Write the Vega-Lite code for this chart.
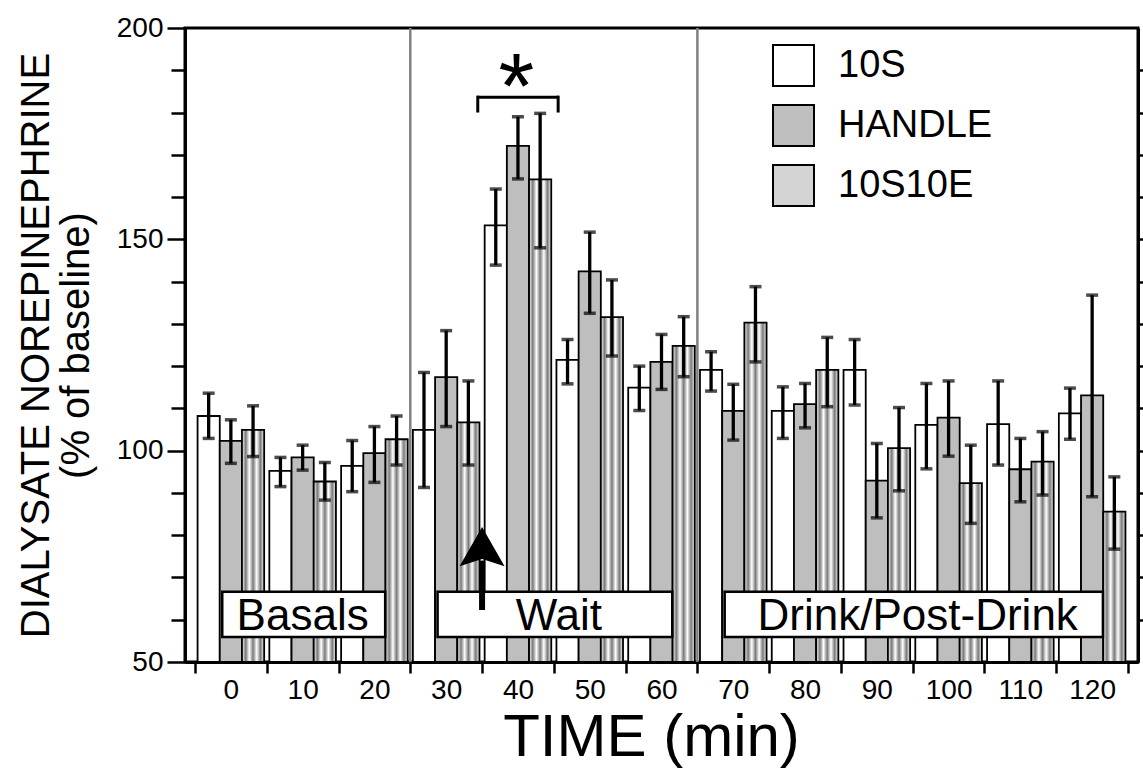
{
  "$schema": "https://vega.github.io/schema/vega-lite/v6.json",
  "width": 953,
  "height": 634,
  "autosize": {"type": "none"},
  "padding": {"left": 185, "top": 28, "right": 5, "bottom": 109},
  "background": "white",
  "config": {
    "font": "Liberation Sans",
    "view": {"stroke": "black", "strokeWidth": 3},
    "axis": {"domainColor": "black", "tickColor": "black", "labelColor": "black", "titleColor": "black", "grid": false, "labelFont": "Liberation Sans", "titleFont": "Liberation Sans", "titleFontWeight": "normal"}
  },
  "datasets": {
    "bars": [
      {"t": 0, "group": "10S", "v": 108.2, "lo": 102.9, "hi": 113.6},
      {"t": 0, "group": "HANDLE", "v": 102.3, "lo": 97.0, "hi": 107.3},
      {"t": 0, "group": "10S10E", "v": 104.9, "lo": 98.6, "hi": 110.6},
      {"t": 10, "group": "10S", "v": 95.2, "lo": 91.5, "hi": 98.4},
      {"t": 10, "group": "HANDLE", "v": 98.4, "lo": 95.4, "hi": 101.3},
      {"t": 10, "group": "10S10E", "v": 92.7, "lo": 88.3, "hi": 97.2},
      {"t": 20, "group": "10S", "v": 96.4, "lo": 90.3, "hi": 102.4},
      {"t": 20, "group": "HANDLE", "v": 99.4, "lo": 92.5, "hi": 105.7},
      {"t": 20, "group": "10S10E", "v": 102.7, "lo": 96.6, "hi": 108.2},
      {"t": 30, "group": "10S", "v": 104.9, "lo": 91.3, "hi": 118.5},
      {"t": 30, "group": "HANDLE", "v": 117.4, "lo": 105.7, "hi": 128.4},
      {"t": 30, "group": "10S10E", "v": 106.7, "lo": 96.6, "hi": 116.5},
      {"t": 40, "group": "10S", "v": 153.3, "lo": 143.9, "hi": 161.9},
      {"t": 40, "group": "HANDLE", "v": 172.1, "lo": 164.3, "hi": 179.0},
      {"t": 40, "group": "10S10E", "v": 164.2, "lo": 148.0, "hi": 179.8},
      {"t": 50, "group": "10S", "v": 121.5, "lo": 115.8, "hi": 126.3},
      {"t": 50, "group": "HANDLE", "v": 142.4, "lo": 132.5, "hi": 151.7},
      {"t": 50, "group": "10S10E", "v": 131.6, "lo": 122.4, "hi": 140.4},
      {"t": 60, "group": "10S", "v": 114.9, "lo": 109.5, "hi": 120.0},
      {"t": 60, "group": "HANDLE", "v": 121.0, "lo": 114.5, "hi": 127.5},
      {"t": 60, "group": "10S10E", "v": 124.8, "lo": 117.5, "hi": 131.7},
      {"t": 70, "group": "10S", "v": 119.1, "lo": 114.1, "hi": 123.4},
      {"t": 70, "group": "HANDLE", "v": 109.4, "lo": 102.5, "hi": 115.7},
      {"t": 70, "group": "10S10E", "v": 130.3, "lo": 121.0, "hi": 138.8},
      {"t": 80, "group": "10S", "v": 109.4, "lo": 102.9, "hi": 115.1},
      {"t": 80, "group": "HANDLE", "v": 111.0, "lo": 105.4, "hi": 115.9},
      {"t": 80, "group": "10S10E", "v": 119.1, "lo": 110.4, "hi": 126.8},
      {"t": 90, "group": "10S", "v": 119.1, "lo": 110.8, "hi": 126.3},
      {"t": 90, "group": "HANDLE", "v": 92.9, "lo": 84.1, "hi": 101.7},
      {"t": 90, "group": "10S10E", "v": 100.6, "lo": 90.5, "hi": 110.2},
      {"t": 100, "group": "10S", "v": 106.1, "lo": 95.7, "hi": 115.9},
      {"t": 100, "group": "HANDLE", "v": 107.8, "lo": 98.7, "hi": 116.5},
      {"t": 100, "group": "10S10E", "v": 92.3, "lo": 82.8, "hi": 101.3},
      {"t": 110, "group": "10S", "v": 106.3, "lo": 96.6, "hi": 116.5},
      {"t": 110, "group": "HANDLE", "v": 95.6, "lo": 87.9, "hi": 102.9},
      {"t": 110, "group": "10S10E", "v": 97.4, "lo": 89.5, "hi": 104.5},
      {"t": 120, "group": "10S", "v": 108.8, "lo": 102.7, "hi": 114.8},
      {"t": 120, "group": "HANDLE", "v": 113.1, "lo": 89.1, "hi": 136.8},
      {"t": 120, "group": "10S10E", "v": 85.6, "lo": 76.7, "hi": 93.8}
    ]
  },
  "encoding": {
    "x": {
      "field": "t", "type": "ordinal",
      "scale": {"domain": [0, 10, 20, 30, 40, 50, 60, 70, 80, 90, 100, 110, 120], "paddingInner": 0, "paddingOuter": 0.139},
      "axis": {"title": "TIME (min)", "titleFontSize": 60, "titlePadding": 4, "titleX": 466, "labelFontSize": 28, "labelAngle": 0, "labelPadding": 3, "tickSize": 11, "tickWidth": 2.5, "tickBand": "extent", "domainWidth": 3}
    }
  },
  "layer": [
    {
      "data": {"values": [{"t": 30}, {"t": 70}]},
      "mark": {"type": "rule", "color": "#808080", "strokeWidth": 2.5},
      "encoding": {"x": {"field": "t", "type": "ordinal", "bandPosition": 0}}
    },
    {
      "data": {"name": "bars"},
      "mark": {"type": "bar", "stroke": "black", "strokeWidth": 1.8},
      "encoding": {
        "xOffset": {"field": "group", "type": "nominal", "scale": {"domain": ["10S", "HANDLE", "10S10E"], "paddingInner": 0, "paddingOuter": 0.117}},
        "y": {
          "field": "v", "type": "quantitative",
          "scale": {"domain": [50, 200], "zero": false, "nice": false},
          "axis": {"orient": "left", "values": [50, 100, 150, 200], "tickSize": 18, "tickWidth": 2.5, "domainWidth": 3, "labelFontSize": 28, "labelPadding": 4, "title": ["DIALYSATE NOREPINEPHRINE", "(% of baseline)"], "titleFontSize": 40, "titleLineHeight": 40, "titlePadding": 20}
        },
        "y2": {"datum": 50},
        "fill": {
          "field": "group", "type": "nominal",
          "condition": {"test": "datum.group === '10S10E'", "value": {"gradient": "linear", "x1": 0, "y1": 0, "x2": 1, "y2": 0, "stops": [{"offset": 0, "color": "#ffffff"}, {"offset": 0.1667, "color": "#7a7a7a"}, {"offset": 0.3333, "color": "#ffffff"}, {"offset": 0.5, "color": "#7a7a7a"}, {"offset": 0.6667, "color": "#ffffff"}, {"offset": 0.8333, "color": "#7a7a7a"}, {"offset": 1, "color": "#ffffff"}]}},
          "scale": {"domain": ["10S", "HANDLE", "10S10E"], "range": ["#ffffff", "#bebebe", "#d4d4d4"]},
          "legend": {
            "title": null, "orient": "none", "legendX": 587, "legendY": 16, "padding": 0,
            "symbolType": "square", "symbolSize": 1681, "symbolStrokeColor": "black", "symbolStrokeWidth": 2,
            "labelFontSize": 38, "labelOffset": 23, "rowPadding": 11, "labelFont": "Liberation Sans", "labelColor": "black",
            "encode": {"symbols": {"update": {
              "fill": [{"test": "datum.value === '10S10E'", "value": {"gradient": "linear", "x1": 0, "y1": 0, "x2": 1, "y2": 0, "stops": [{"offset": 0, "color": "#ffffff"}, {"offset": 0.1, "color": "#7a7a7a"}, {"offset": 0.2, "color": "#ffffff"}, {"offset": 0.3, "color": "#7a7a7a"}, {"offset": 0.4, "color": "#ffffff"}, {"offset": 0.5, "color": "#7a7a7a"}, {"offset": 0.6, "color": "#ffffff"}, {"offset": 0.7, "color": "#7a7a7a"}, {"offset": 0.8, "color": "#ffffff"}, {"offset": 0.9, "color": "#7a7a7a"}, {"offset": 1, "color": "#ffffff"}]}}, {"scale": "fill", "field": "value"}],
              "stroke": {"value": "black"},
              "opacity": {"value": 1}
            }}}
          }
        }
      }
    },
    {
      "data": {"name": "bars"},
      "mark": {"type": "rule", "color": "black", "strokeWidth": 3.3},
      "encoding": {
        "xOffset": {"field": "group", "type": "nominal", "scale": {"domain": ["10S", "HANDLE", "10S10E"], "paddingInner": 0, "paddingOuter": 0.117}},
        "y": {"field": "lo", "type": "quantitative", "axis": {"orient": "left", "values": [60, 70, 80, 90, 110, 120, 130, 140, 160, 170, 180, 190], "tickSize": 14, "tickWidth": 2.5, "labels": false, "domain": false, "title": null}},
        "y2": {"field": "hi"}
      }
    },
    {
      "data": {"name": "bars"},
      "mark": {"type": "tick", "color": "black", "thickness": 3.5, "size": 12},
      "encoding": {
        "xOffset": {"field": "group", "type": "nominal", "scale": {"domain": ["10S", "HANDLE", "10S10E"], "paddingInner": 0, "paddingOuter": 0.117}},
        "y": {"field": "hi", "type": "quantitative", "axis": {"orient": "right", "values": [60, 70, 80, 90, 100, 110, 120, 130, 140, 150, 160, 170, 180, 190], "tickSize": 6, "tickWidth": 2.5, "labels": false, "domainWidth": 3, "title": null}}
      }
    },
    {
      "data": {"name": "bars"},
      "mark": {"type": "tick", "color": "black", "thickness": 3.5, "size": 12},
      "encoding": {
        "xOffset": {"field": "group", "type": "nominal", "scale": {"domain": ["10S", "HANDLE", "10S10E"], "paddingInner": 0, "paddingOuter": 0.117}},
        "y": {"field": "lo", "type": "quantitative", "axis": null}
      }
    },
    {
      "data": {"values": [{"label": "Basals", "from": 0, "to": 20, "lo": 55.9, "hi": 66.6}, {"label": "Wait", "from": 30, "to": 60, "lo": 55.9, "hi": 66.6}, {"label": "Drink/Post-Drink", "from": 70, "to": 120, "lo": 55.9, "hi": 66.6}]},
      "mark": {"type": "rect", "fill": "white", "stroke": "black", "strokeWidth": 2.5},
      "encoding": {
        "x": {"field": "from", "type": "ordinal", "bandPosition": 0.38},
        "x2": {"field": "to", "bandPosition": 0.65},
        "y": {"field": "lo", "type": "quantitative", "axis": null},
        "y2": {"field": "hi"}
      }
    },
    {
      "data": {"values": [{"label": "Basals", "mid": 10, "base": 57.6}]},
      "mark": {"type": "text", "fontSize": 44, "baseline": "alphabetic", "align": "center", "color": "black", "font": "Liberation Sans"},
      "encoding": {
        "x": {"field": "mid", "type": "ordinal", "bandPosition": 0.5},
        "y": {"field": "base", "type": "quantitative", "axis": null},
        "text": {"field": "label"}
      }
    },
    {
      "data": {"values": [{"label": "Wait", "mid": 50, "base": 57.6}, {"label": "Drink/Post-Drink", "mid": 100, "base": 57.6}]},
      "mark": {"type": "text", "fontSize": 44, "baseline": "alphabetic", "align": "center", "color": "black", "font": "Liberation Sans"},
      "encoding": {
        "x": {"field": "mid", "type": "ordinal", "bandPosition": 0.07},
        "y": {"field": "base", "type": "quantitative", "axis": null},
        "text": {"field": "label"}
      }
    },
    {
      "data": {"values": [{"t": 40, "lo": 62.3, "hi": 74.0}]},
      "mark": {"type": "rule", "color": "black", "strokeWidth": 6},
      "encoding": {
        "x": {"field": "t", "type": "ordinal", "bandPosition": 0},
        "y": {"field": "lo", "type": "quantitative", "axis": null},
        "y2": {"field": "hi"}
      }
    },
    {
      "data": {"values": [{"t": 40, "head": 77.3}]},
      "mark": {"type": "point", "shape": "M0,-0.87L1,0.87L0,0.55L-1,0.87Z", "filled": true, "color": "black", "opacity": 1, "size": 2025, "strokeWidth": 0},
      "encoding": {
        "x": {"field": "t", "type": "ordinal", "bandPosition": 0},
        "y": {"field": "head", "type": "quantitative", "axis": null}
      }
    },
    {
      "data": {"values": [{"t": 40, "top": 183.6, "end": 180.0}]},
      "mark": {"type": "rule", "color": "black", "strokeWidth": 3},
      "encoding": {
        "x": {"field": "t", "type": "ordinal", "bandPosition": -0.06},
        "x2": {"field": "t", "bandPosition": 1.06},
        "y": {"field": "top", "type": "quantitative", "axis": null}
      }
    },
    {
      "data": {"values": [{"t": 40, "top": 184.0, "end": 180.0}]},
      "mark": {"type": "rule", "color": "black", "strokeWidth": 3},
      "encoding": {
        "x": {"field": "t", "type": "ordinal", "bandPosition": -0.06},
        "y": {"field": "top", "type": "quantitative", "axis": null},
        "y2": {"field": "end"}
      }
    },
    {
      "data": {"values": [{"t": 40, "top": 184.0, "end": 180.0}]},
      "mark": {"type": "rule", "color": "black", "strokeWidth": 3},
      "encoding": {
        "x": {"field": "t", "type": "ordinal", "bandPosition": 1.06},
        "y": {"field": "top", "type": "quantitative", "axis": null},
        "y2": {"field": "end"}
      }
    },
    {
      "data": {"values": [{"t": 40, "star": 178.7, "sig": "*"}]},
      "mark": {"type": "text", "fontSize": 92, "baseline": "alphabetic", "align": "center", "color": "black", "font": "Liberation Sans"},
      "encoding": {
        "x": {"field": "t", "type": "ordinal", "bandPosition": 0.48},
        "y": {"field": "star", "type": "quantitative", "axis": null},
        "text": {"field": "sig"}
      }
    }
  ],
  "resolve": {"scale": {"y": "shared"}, "axis": {"y": "independent"}}
}
